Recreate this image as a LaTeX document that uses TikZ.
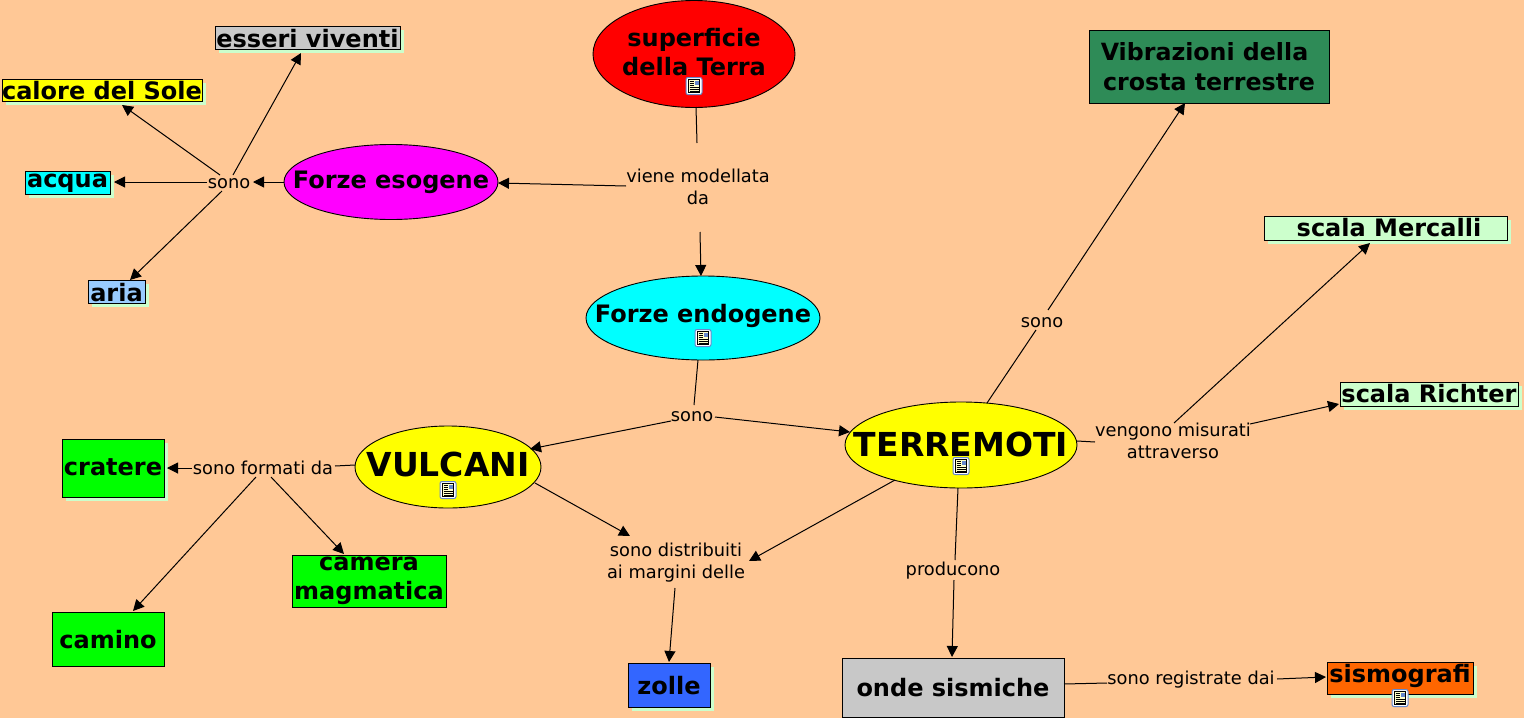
\documentclass[tikz,border=0pt]{standalone}
\usepackage{fontspec}
\setmainfont{DejaVu Sans}
\usetikzlibrary{arrows.meta,shapes.geometric,shadows}
\definecolor{bgc}{HTML}{FFC896}
\definecolor{shc}{HTML}{CCFFCC}
\definecolor{grayc}{HTML}{C8C8C8}
\definecolor{seac}{HTML}{2E8B57}
\definecolor{skyc}{HTML}{99CCFF}
\definecolor{bluec}{HTML}{3366FF}
\definecolor{orangec}{HTML}{FF6600}
\definecolor{pyellow}{HTML}{FFFF00}
\definecolor{pcyan}{HTML}{00FFFF}
\definecolor{pmagenta}{HTML}{FF00FF}
\definecolor{pred}{HTML}{FF0000}
\definecolor{pgreen}{HTML}{00FF00}
\definecolor{iconb}{HTML}{6688CC}
\definecolor{iconp}{HTML}{FFFFCC}
\newcommand{\txt}[2]{\makebox[0pt]{\smash{\raisebox{#1pt}{\begin{tabular}[t]{@{}c@{}}#2\end{tabular}}}}}
\newcommand{\cn}[5][]{\draw[conn,#1] ([shift={(#3)}]#2.center) -- ([shift={(#5)}]#4.center);}
\newcommand{\docicon}[3]{%
  \node[iconbase] (#1) at (#2,#3) {};
  \fill[iconp] (#2-5.5,#3-6.5) rectangle (#2+5.5,#3+6.5);
  \draw[black,line width=.7pt] (#2-5.5,#3-6.5) rectangle (#2+5.5,#3+6.5);
  \fill[iconb] (#2+.5,#3-5.5) rectangle (#2+4.5,#3-1.5);
  \foreach \yy in {-4.5,-2.5,-.5}{\draw[black,line width=.7pt] (#2-4.5,#3+\yy) -- (#2,#3+\yy);}
  \foreach \yy in {1.5,3.5,5}{\draw[black,line width=.7pt] (#2-4.5,#3+\yy) -- (#2+4.5,#3+\yy);}
}
\tikzset{
  x=1pt,y=-1pt,
  conn/.style={draw=black,line width=1pt},
  arr/.style={-{Triangle[length=11pt,width=11pt]}},
  boxn/.style={rectangle,draw=black,line width=1pt,inner sep=0pt,outer sep=0pt,font=\fontsize{24}{29}\selectfont\bfseries},
  shad/.style={drop shadow={shadow xshift=3.5pt,shadow yshift=-3.5pt,fill=shc,opacity=1}},
  elln/.style={ellipse,draw=black,line width=.9pt,inner sep=0pt,outer sep=0pt,font=\fontsize{24}{29}\selectfont\bfseries},
  lbl/.style={inner sep=0pt,outer sep=0pt,font=\fontsize{17.8}{22}\selectfont,text=black},
  iconbase/.style={rectangle,rounded corners=2pt,draw=iconb,fill=white,line width=1pt,minimum width=16pt,minimum height=17pt,inner sep=0pt}
}
\begin{document}
\begin{tikzpicture}
\useasboundingbox (0,0) rectangle (1524,718);
\fill[bgc] (0,0) rectangle (1524,718);
% concepts
\node[boxn,shad,fill=grayc,minimum width=185pt,minimum height=23pt] (esseri) at (307.5,37.5) {\txt{-10}{esseri viventi}};
\node[boxn,shad,fill=pyellow,minimum width=200pt,minimum height=22pt] (calore) at (102,90) {\txt{-9}{calore del Sole}};
\node[boxn,shad,fill=pcyan,minimum width=85pt,minimum height=23pt] (acqua) at (67.5,182.5) {\txt{-4.5}{acqua}};
\node[boxn,shad,fill=skyc,minimum width=57pt,minimum height=23pt] (aria) at (116.5,291.5) {\txt{-10}{aria}};
\node[elln,fill=pmagenta,minimum width=214pt,minimum height=75pt] (esog) at (391,182) {\txt{-6}{Forze esogene}};
\node[elln,fill=pred,minimum width=202pt,minimum height=107pt] (sup) at (694,54) {\txt{8}{superficie\\della Terra}};
\node[elln,fill=pcyan,minimum width=234pt,minimum height=84pt] (endo) at (703,318) {\txt{-4}{Forze endogene}};
\node[elln,fill=pyellow,minimum width=186pt,minimum height=82pt,font=\fontsize{33}{38}\selectfont\bfseries] (vulc) at (448,467) {\txt{-9}{VULCANI}};
\node[elln,fill=pyellow,minimum width=232pt,minimum height=86pt,font=\fontsize{33}{38}\selectfont\bfseries] (terr) at (961,445) {\txt{-11}{TERREMOTI}};
\node[boxn,fill=seac,minimum width=240pt,minimum height=73pt,font=\fontsize{23.7}{30}\selectfont\bfseries] (vib) at (1209,66.5) {\txt{6.5}{\hspace*{-9pt}Vibrazioni della\\crosta terrestre}};
\node[boxn,shad,fill=shc,minimum width=243pt,minimum height=24pt] (merc) at (1385.5,228) {\hspace*{7pt}\txt{-8}{scala Mercalli}};
\node[boxn,shad,fill=shc,minimum width=178pt,minimum height=24pt] (rich) at (1429,394) {\txt{-8}{scala Richter}};
\node[boxn,shad,fill=pgreen,minimum width=102pt,minimum height=58pt] (crat) at (113,468) {\txt{-7}{cratere}};
\node[boxn,fill=pgreen,minimum width=154pt,minimum height=52pt] (cam) at (369,581) {\txt{11}{camera\\magmatica}};
\node[boxn,fill=pgreen,minimum width=112pt,minimum height=54pt] (camino) at (108,639) {\txt{-9}{camino}};
\node[boxn,shad,fill=bluec,minimum width=82pt,minimum height=44pt] (zolle) at (669,685) {\txt{-9}{zolle}};
\node[boxn,fill=grayc,minimum width=222pt,minimum height=59pt] (onde) at (953,687.5) {\txt{-8.5}{onde sismiche}};
\node[boxn,shad,fill=orangec,minimum width=146pt,minimum height=32pt] (sism) at (1400,678) {\txt{-4}{sismografi}};
% linking phrases
\node[lbl] (lsono) at (229,182) {\txt{-6}{sono}};
\node[lbl] (lvm) at (698,187) {\txt{4.5}{viene modellata\\da}};
\node[lbl] (lsend) at (692,415) {\txt{-6}{sono}};
\node[lbl] (lform) at (263,469) {\txt{-5}{sono formati da}};
\node[lbl] (ldis) at (676,560) {\txt{4}{sono distribuiti\\ai margini delle}};
\node[lbl] (lster) at (1042,321) {\txt{-6}{sono}};
\node[lbl] (lmis) at (1173,440) {\txt{4}{vengono misurati\\attraverso}};
\node[lbl] (lprod) at (953,569) {\txt{-6}{producono}};
\node[lbl] (lreg) at (1191,679) {\txt{-5}{sono registrate dai}};
% connectors
\cn[arr]{lsono}{-9,-7}{calore}{20,15}
\cn[arr]{lsono}{4,-7}{esseri}{-6.5,15.5}
\cn[arr]{lsono}{-22,0}{acqua}{46.5,-.5}
\cn[arr]{lsono}{-7,9}{aria}{13.5,-11.5}
\cn[arr]{esog}{-107,0}{lsono}{24,0}
\cn{sup}{2,53}{lvm}{-1,-44}
\cn[arr]{lvm}{-72,-1}{esog}{107,1}
\cn[arr]{lvm}{2,45}{endo}{-2,-42}
\cn{endo}{-5,42}{lsend}{2,-10}
\cn[arr]{lsend}{-21,6}{vulc}{82,-18}
\cn[arr]{lsend}{23,2}{terr}{-111,-13}
\cn{vulc}{-93,-2}{lform}{72,-3}
\cn[arr]{lform}{-71,-1}{crat}{54,0}
\cn[arr]{lform}{-7,8}{camino}{25,-28}
\cn[arr]{lform}{8,8}{cam}{-25,-27}
\cn[arr]{vulc}{87,16}{ldis}{-46,-24}
\cn[arr]{terr}{-66,35}{ldis}{73,1}
\cn[arr]{ldis}{-1,28}{zolle}{0,-23}
\cn{terr}{26,-42}{lster}{-6,9}
\cn[arr]{lster}{6,-11}{vib}{-24,36.5}
\cn{terr}{116,-4}{lmis}{-78,2}
\cn[arr]{lmis}{1,-17}{merc}{-15.5,15}
\cn[arr]{lmis}{77,-16}{rich}{-90,10}
\cn{terr}{-3,43}{lprod}{2,-9}
\cn[arr]{lprod}{1,11}{onde}{-1,-30.5}
\cn{onde}{111,-3.5}{lreg}{-84,4}
\cn[arr]{lreg}{86,0}{sism}{-74,-1}
% icons
\docicon{ic1}{694}{86}
\docicon{ic2}{703}{338}
\docicon{ic3}{448}{490}
\docicon{ic4}{961}{466}
\docicon{ic5}{1400}{698}
\end{tikzpicture}
\end{document}
